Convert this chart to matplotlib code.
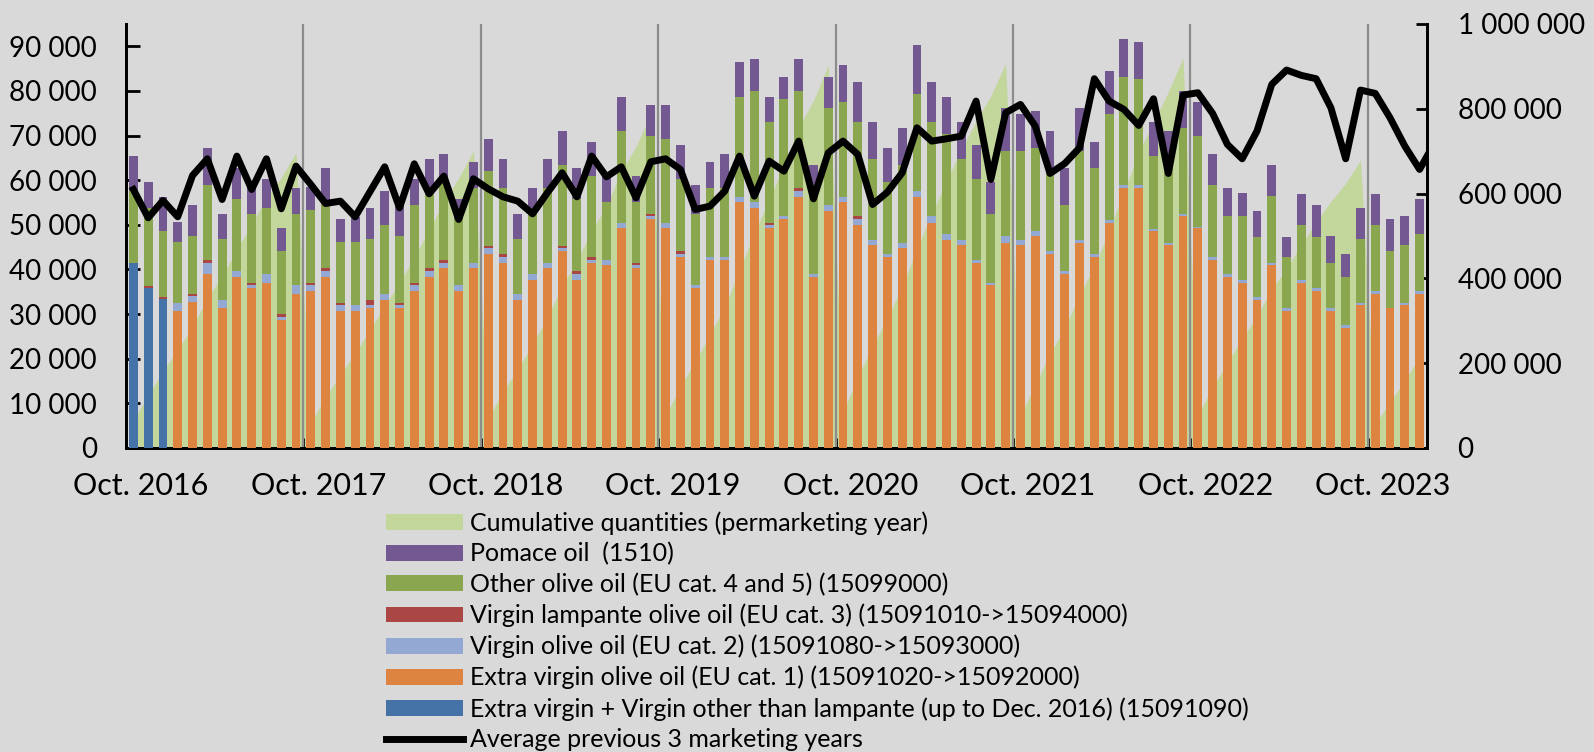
import matplotlib
matplotlib.use('Agg')
import matplotlib.pyplot as plt
import numpy as np
from matplotlib.ticker import FuncFormatter, FixedLocator

plt.rcParams['font.family'] = ['Lato', 'DejaVu Sans']

# monthly imports (t), Oct. 2016 -> Jan. 2024
blue = [41560, 35800, 33330] + [0] * 85
extra_virgin = [0, 0, 0, 30640, 32660, 39090, 31320, 38420, 35800, 37070, 28770, 34600,
                35130, 38420, 30640, 30640, 31320, 33260, 31320, 35130, 38420, 40290, 35130, 40290,
                43500, 41560, 33260, 37740, 40290, 44100, 37740, 41560, 40960, 49250, 40290, 51200,
                49250, 42830, 35800, 42230, 42230, 55080, 53810, 49250, 51200, 56350, 38420, 53140,
                55080, 49930, 45440, 42830, 44770, 56350, 50520, 46710, 45440, 41560, 36470, 46040,
                45440, 47390, 43500, 39010, 46040, 42900, 50520, 58220, 58220, 48660, 45440, 51870,
                49250, 42230, 38420, 37070, 33260, 40960, 30720, 37070, 35200, 30720, 26830, 31990,
                34600, 31320, 31990, 34600]
virgin = [0, 0, 0, 1940, 1350, 2470, 1940, 1200, 670, 1940, 670, 1870,
          1350, 1200, 1350, 1350, 670, 1270, 670, 1350, 1200, 1270, 1350, 1270,
          1270, 1270, 1270, 1270, 1270, 670, 1270, 670, 1270, 1270, 670, 670,
          1270, 670, 670, 600, 600, 1270, 1270, 670, 670, 1270, 600, 1270,
          1270, 1270, 1270, 670, 1270, 1270, 1350, 1270, 1270, 670, 600, 1350,
          1270, 1270, 670, 600, 670, 600, 670, 670, 670, 300, 600, 670,
          220, 670, 600, 670, 670, 600, 600, 670, 600, 600, 670, 600,
          600, 150, 600, 600]
lampante = [0, 600, 600, 0, 600, 670, 0, 0, 600, 0, 670, 0,
            600, 670, 600, 0, 1270, 0, 600, 600, 670, 670, 0, 0,
            600, 670, 0, 0, 0, 600, 600, 600, 0, 0, 600, 670,
            0, 600, 0, 0, 0, 0, 0, 600, 0, 600, 0, 0,
            0, 670, 0, 0, 0, 0, 0, 0, 0, 0, 0, 0,
            0, 0, 0, 0, 0, 0, 0, 0, 0, 0, 0, 0,
            0, 0, 0, 0, 0, 0, 0, 0, 0, 0, 0, 0,
            0, 0, 0, 0]
other = [15990, 17410, 14800, 13530, 12780, 16740, 13530, 16070, 15470, 14800, 14130, 16070,
         16140, 15020, 13530, 14130, 13530, 15470, 14800, 17340, 17640, 17040, 14720, 16740,
         16740, 14800, 12260, 14420, 16740, 18010, 16070, 18010, 12860, 20550, 13530, 17260,
         18610, 16070, 16070, 15470, 15470, 22350, 24960, 22420, 26230, 21820, 19660, 21750,
         21080, 21080, 17940, 16070, 17340, 21750, 21080, 22270, 17940, 17940, 15470, 19210,
         19880, 18540, 17490, 14800, 19880, 19210, 23690, 24290, 23690, 16370, 17110, 19130,
         20330, 15990, 12860, 14130, 13450, 14800, 11580, 12180, 11580, 10240, 10910, 14200,
         14720, 12710, 12860, 12860]
pomace = [7770, 5750, 7620, 4480, 7030, 8220, 5750, 7100, 7250, 6350, 5080, 5750,
          5310, 7400, 5080, 5680, 7030, 7620, 7180, 5750, 6730, 6650, 4480, 5680,
          7030, 6350, 5750, 4860, 6350, 7620, 7030, 7620, 5750, 7620, 5750, 7030,
          7700, 7700, 6350, 5680, 7620, 7770, 7030, 5750, 5080, 7030, 4710, 7030,
          8370, 8970, 8300, 7620, 8300, 10910, 8970, 8450, 8300, 7700, 7030, 9570,
          8300, 8370, 9420, 8300, 9570, 5750, 9570, 8370, 8300, 7620, 7920, 8370,
          7620, 7030, 6430, 5160, 5750, 7030, 4480, 7030, 7030, 5830, 5080, 7030,
          7030, 7030, 6430, 7620]
avg_prev3 = [57920, 51570, 55460, 51800, 61060, 64800, 55680, 65400, 57920, 64800, 53590, 63150,
             59050, 54780, 55310, 51800, 57400, 63000, 53810, 63680, 56950, 60910, 51200, 60320,
             58070, 56280, 55310, 52470, 57180, 61660, 56280, 65400, 60760, 63000, 56060, 64130,
             64800, 62410, 53440, 54190, 57550, 65400, 56430, 64280, 62030, 68760, 55830, 66140,
             68760, 65770, 54560, 57320, 61660, 71750, 68760, 69280, 69880, 77730, 60170, 75110,
             76980, 72120, 61510, 63750, 67270, 82740, 77730, 75860, 72270, 78250, 61510, 79070,
             79600, 74960, 68010, 64800, 71000, 81470, 84680, 83490, 82740, 76230, 64800, 80200,
             79450, 73990, 67640, 62410, 68300]
year_labels = ['Oct. 2016', 'Oct. 2017', 'Oct. 2018', 'Oct. 2019',
               'Oct. 2020', 'Oct. 2021', 'Oct. 2022', 'Oct. 2023']

BG = '#d9d9d9'
c_cum = '#c3d69b'
c_pom = '#735891'
c_oth = '#8aa64f'
c_lam = '#aa4644'
c_vir = '#93a9d3'
c_ext = '#dd8540'
c_blu = '#4573a7'

n = len(pomace)
x = np.arange(n)
series = [np.array(s, dtype=float) for s in (blue, extra_virgin, virgin, lampante, other, pomace)]
total = sum(series)
# cumulative per marketing year (Oct -> Sep)
cum = np.array([total[(i // 12) * 12:i + 1].sum() for i in range(n)])

fig = plt.figure(figsize=(15.94, 7.52), dpi=100, facecolor=BG)
rect = [126 / 1594, 1 - 448 / 752, (1427 - 126) / 1594, (448 - 24) / 752]
ax2 = fig.add_axes(rect, facecolor=BG)
ax = ax2.twinx()

# cumulative area on the right axis (behind)
h_cum = ax2.fill_between(x, 0, cum, color=c_cum, lw=0, zorder=1)
ax2.set_ylim(0, 1000000)
ax2.yaxis.tick_right()
ax2.set_yticks(np.arange(0, 1000001, 200000))

for k in range(1, 8):
    ax2.axvline(12 * k - 0.5, color='#8c8c8c', lw=1.6, zorder=2)

# stacked bars on the left axis
w = 0.6
bottom = np.zeros(n)
handles = {}
for s, c, key in zip(series, [c_blu, c_ext, c_vir, c_lam, c_oth, c_pom],
                     ['blu', 'ext', 'vir', 'lam', 'oth', 'pom']):
    handles[key] = ax.bar(x, s, width=w, bottom=bottom, color=c, lw=0, zorder=3)
    bottom += s

h_line, = ax.plot(np.arange(len(avg_prev3)), avg_prev3, color='k', lw=5, zorder=4,
                  solid_joinstyle='round')

ax.set_ylim(0, 95000)
ax.set_yticks(np.arange(0, 90001, 10000))
ax.yaxis.tick_left()
ax2.set_xlim(-0.5, n - 0.5)

fmt = FuncFormatter(lambda v, p: f'{v:,.0f}'.replace(',', ' '))
ax.yaxis.set_major_formatter(fmt)
ax2.yaxis.set_major_formatter(fmt)

ax.tick_params(axis='y', direction='in', length=10, width=2, labelsize=20, pad=21)
ax2.tick_params(axis='y', direction='in', length=8, width=2, labelsize=20, pad=22)

# x axis: ticks at marketing-year boundaries, labels on the October bar
ax2.xaxis.set_major_locator(FixedLocator([12 * k - 0.5 for k in range(1, 8)]))
ax2.xaxis.set_minor_locator(FixedLocator([12 * k + 0.5 for k in range(8)]))
ax2.xaxis.set_major_formatter(FuncFormatter(lambda v, p: ''))
ax2.xaxis.set_minor_formatter(FuncFormatter(lambda v, p: year_labels[int(round((v - 0.5) / 12))]))
ax2.tick_params(axis='x', which='major', direction='in', length=7, width=2)
ax2.tick_params(axis='x', which='minor', length=0, labelsize=22, pad=17.5)

for a in (ax, ax2):
    a.spines['top'].set_visible(False)
    for sp in ('left', 'right', 'bottom'):
        a.spines[sp].set_linewidth(2)
        a.spines[sp].set_color('k')

leg_handles = [h_cum, handles['pom'], handles['oth'], handles['lam'], handles['vir'],
               handles['ext'], handles['blu'], h_line]
leg_labels = ['Cumulative quantities (permarketing year)',
              'Pomace oil  (1510)',
              'Other olive oil (EU cat. 4 and 5) (15099000)',
              'Virgin lampante olive oil (EU cat. 3) (15091010->15094000)',
              'Virgin olive oil (EU cat. 2) (15091080->15093000)',
              'Extra virgin olive oil (EU cat. 1) (15091020->15092000)',
              'Extra virgin + Virgin other than lampante (up to Dec. 2016) (15091090)',
              'Average previous 3 marketing years']
fig.legend(leg_handles, leg_labels, loc='upper left',
           bbox_to_anchor=(386 / 1594, 1 - 511 / 752), frameon=False, fontsize=18,
           handlelength=3.08, handleheight=0.6, handletextpad=0.28, labelspacing=0.3,
           borderpad=0, borderaxespad=0)

fig.savefig('out.png', dpi=100, facecolor=BG)
